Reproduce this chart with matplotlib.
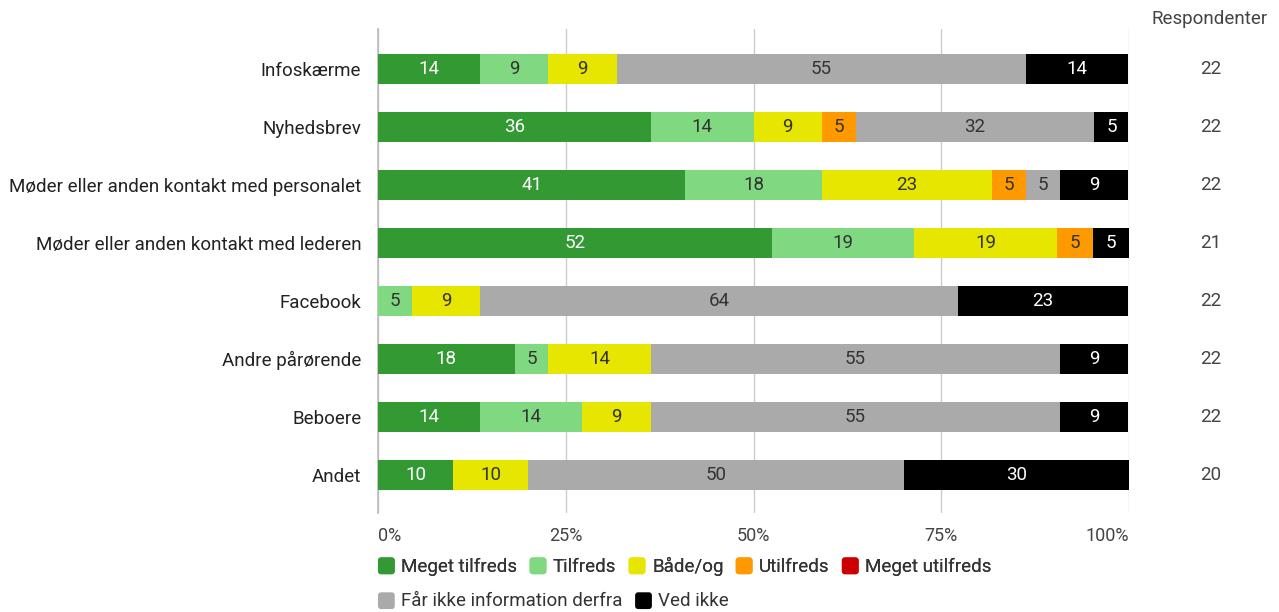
import matplotlib
matplotlib.use("Agg")
import matplotlib.pyplot as plt
import numpy as np
from matplotlib.patches import Patch, FancyBboxPatch
from matplotlib.legend_handler import HandlerPatch

plt.rcParams['font.family'] = ['Roboto', 'DejaVu Sans']

categories = ["Infoskærme", "Nyhedsbrev", "Møder eller anden kontakt med personalet",
              "Møder eller anden kontakt med lederen", "Facebook", "Andre pårørende",
              "Beboere", "Andet"]
series_names = ["Meget tilfreds", "Tilfreds", "Både/og", "Utilfreds", "Meget utilfreds",
                "Får ikke information derfra", "Ved ikke"]
meget_tilfreds = [13.6, 36.4, 40.9, 52.4, 0, 18.2, 13.6, 10]
tilfreds = [9.1, 13.6, 18.2, 19.0, 4.5, 4.5, 13.6, 0]
baade_og = [9.1, 9.1, 22.7, 19.0, 9.1, 13.6, 9.1, 10]
utilfreds = [0, 4.5, 4.5, 4.8, 0, 0, 0, 0]
meget_utilfreds = [0, 0, 0, 0, 0, 0, 0, 0]
faar_ikke = [54.5, 31.8, 4.5, 0, 63.6, 54.5, 54.5, 50]
ved_ikke = [13.6, 4.5, 9.1, 4.8, 22.7, 9.1, 9.1, 30]
respondenter = [22, 22, 22, 21, 22, 22, 22, 20]
xtick_labels = ["0%", "25%", "50%", "75%", "100%"]

series = [meget_tilfreds, tilfreds, baade_og, utilfreds, meget_utilfreds, faar_ikke, ved_ikke]
colors = ["#339933", "#80d880", "#e6e600", "#ff9900", "#cc0000", "#aaaaaa", "#000000"]
text_colors = ["white", "#333333", "#333333", "#333333", "white", "#333333", "white"]

FS = 13.5

fig = plt.figure(figsize=(12.79, 6.12), dpi=100)
ax = fig.add_axes([378/1279, 1-513/612, (1129-378)/1279, (513-29)/612])

y = np.arange(len(categories))
left = np.zeros(len(categories))
for vals, col, tcol in zip(series, colors, text_colors):
    vals = np.array(vals, dtype=float)
    ax.barh(y, vals, left=left, height=0.52, color=col, zorder=3)
    for yi, (l, v) in enumerate(zip(left, vals)):
        if v > 0:
            ax.text(l + v/2, yi, str(int(np.floor(v + 0.5))), ha='center', va='center',
                    color=tcol, fontsize=FS, zorder=4)
    left += vals

ax.set_xlim(0, 100)
ax.set_ylim(7.66, -0.69)
ax.set_yticks(y)
ax.set_yticklabels(categories, fontsize=FS, color="#222222")
ax.set_xticks([0, 25, 50, 75, 100])
ax.set_xticklabels(xtick_labels, fontsize=13, color="#444444")
tl = ax.get_xticklabels()
tl[0].set_ha('left')
tl[-1].set_ha('right')
ax.tick_params(axis='x', length=0, pad=10)
ax.tick_params(axis='y', length=0, pad=12)
for s in ['top', 'right', 'bottom']:
    ax.spines[s].set_visible(False)
ax.spines['left'].set_color("#bbbbbb")
ax.spines['left'].set_linewidth(1.2)
ax.grid(axis='x', color="#cccccc", linewidth=1, zorder=0)
ax.set_axisbelow(True)

for yi, r in enumerate(respondenter):
    ax.annotate(str(r), xy=(1, yi), xycoords=('axes fraction', 'data'),
                xytext=(59, 0), textcoords='offset points', ha='center', va='center',
                fontsize=FS, color="#444444")
fig.text(1268/1279, 1-19/612, "Respondenter", ha='right', va='center', fontsize=FS, color="#444444")


class RoundedHandler(HandlerPatch):
    def create_artists(self, legend, orig_handle, xdescent, ydescent, width, height,
                       fontsize, trans):
        s = min(width, height) * 1.0
        p = FancyBboxPatch((-xdescent + (width - s) / 2, -ydescent + (height - s) / 2 - 0.5),
                           s, s, boxstyle="round,pad=0,rounding_size=%f" % (s * 0.18),
                           facecolor=orig_handle.get_facecolor(), edgecolor='none',
                           transform=trans)
        return [p]


handles = [Patch(facecolor=c, edgecolor='none') for c in colors]
common = dict(loc='center left', frameon=False, fontsize=FS, handlelength=1.0,
              handleheight=1.0, handletextpad=0.3, columnspacing=0.6,
              labelcolor="#333333", borderpad=0, borderaxespad=0,
              handler_map={Patch: RoundedHandler()})
leg1 = fig.legend(handles[:5], series_names[:5], bbox_to_anchor=(377/1279, 1-566/612),
                  ncol=5, **common)
leg2 = fig.legend(handles[5:], series_names[5:], bbox_to_anchor=(377/1279, 1-601/612),
                  ncol=2, **common)
fig.add_artist(leg1)

fig.savefig("out.png", dpi=100)
